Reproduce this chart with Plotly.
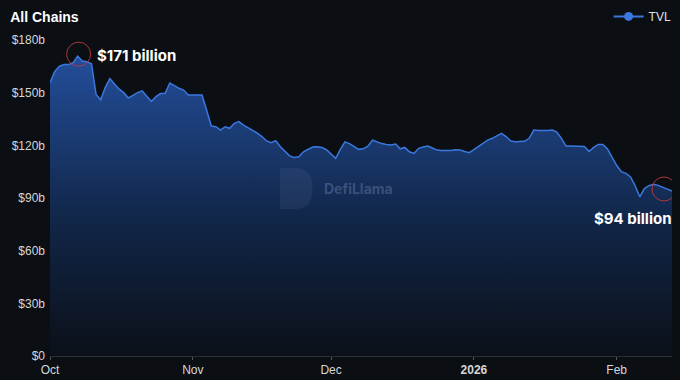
import pandas as pd
import plotly.graph_objects as go

# ---- data (TVL, $ billions, daily from Oct 1) ----
start_date = "2025-10-01"
tvl = [
    155.5, 162, 165, 166, 166, 167, 170.8, 168, 167.6, 166.5,
    149, 146, 153, 158, 155, 152, 150, 147, 148.5, 150,
    151, 148, 145, 147.7, 149.5, 149.6, 155.5, 154, 152.5, 151.5,
    148.6, 148.6, 148.6, 148.6, 140, 131, 130.6, 128.7, 130.6, 129.7,
    132.5, 133.5, 131.5, 130, 128.8, 127, 125, 122.5, 121.5, 122.6,
    119.2, 116.5, 114, 113.1, 113.5, 116.3, 117.5, 119, 119.2, 118.8,
    117.5, 115, 112.6, 117.5, 122, 121, 119.5, 117.7, 118, 119.5,
    123, 122, 121, 120.5, 120.2, 120.7, 118, 118.8, 116.3, 115.4,
    118.3, 119, 119.6, 118.5, 117.3, 117, 117, 117, 117.5, 117.3,
    116.5, 115.8, 117.5, 119.5, 121.5, 123, 124, 125.5, 126.8, 125,
    122.5, 122, 122, 122.3, 124, 128.7, 128.5, 128.3, 128.5, 128.7,
    127.5, 124, 119.6, 119.6, 119.6, 119.6, 119.3, 116.5, 118.8, 120.5,
    120.5, 118, 113, 108.5, 105, 104, 102, 97, 90.7, 95.4,
    97, 97.8, 97.2, 96, 95, 94,
]
dates = pd.date_range(start_date, periods=len(tvl), freq="D")

y_tickvals = [0, 30, 60, 90, 120, 150, 180]
y_ticktext = ["$0", "$30b", "$60b", "$90b", "$120b", "$150b", "$180b"]
x_tickvals = ["2025-10-01", "2025-11-01", "2025-12-01", "2026-01-01", "2026-02-01"]
x_ticktext = ["Oct", "Nov", "Dec", "<b>2026</b>", "Feb"]

BG = "#0b0f14"
LINE = "#3a78e0"

fig = go.Figure()
fig.add_trace(go.Scatter(
    x=dates, y=tvl, mode="lines", name="TVL", showlegend=False,
    line=dict(color=LINE, width=1.5),
    fill="tozeroy",
    fillgradient=dict(type="vertical", start=0, stop=171,
                      colorscale=[[0, "rgba(11,16,24,1)"], [0.45, "rgba(17,38,72,1)"],
                                  [1, "rgba(35,78,155,1)"]]),
    hoverinfo="skip",
))
# legend entry
fig.add_trace(go.Scatter(
    x=[None], y=[None], mode="lines+markers", name="TVL",
    line=dict(color=LINE, width=2), marker=dict(color=LINE, size=9),
))

peak_i = max(range(len(tvl)), key=lambda i: tvl[i])
last_i = len(tvl) - 1

# annotations
fig.add_annotation(x=dates[peak_i], y=tvl[peak_i], text="$%d billion" % round(tvl[peak_i]),
                   showarrow=False, xanchor="left", yanchor="middle", xshift=17, yshift=1,
                   font=dict(family="Inter, Noto Sans, sans-serif", size=15, color="white", weight="bold"))
fig.add_annotation(x=dates[last_i], y=tvl[last_i], text="$%d billion" % round(tvl[last_i]),
                   showarrow=False, xanchor="right", yanchor="middle", xshift=2, yshift=-28,
                   font=dict(family="Inter, Noto Sans, sans-serif", size=15, color="white", weight="bold"))

for i, dx in ((peak_i, 1), (last_i, -8)):
    fig.add_shape(type="circle", xref="x", yref="y", xsizemode="pixel", ysizemode="pixel",
                  xanchor=dates[i], yanchor=tvl[i],
                  x0=dx - 12, x1=dx + 12, y0=-12 + 2, y1=12 + 2,
                  line=dict(color="rgba(190,55,55,0.9)", width=1))

# watermark
fig.add_annotation(xref="paper", yref="paper", x=0.438, y=0.53, text="DefiLlama", showarrow=False,
                   xanchor="left", yanchor="middle",
                   font=dict(family="Inter, Noto Sans, sans-serif", size=14, color="rgba(140,160,195,0.33)",
                             weight="bold"))
fig.add_shape(type="path", xref="paper", yref="paper",
              path="M 0.370 0.465 L 0.395 0.465 Q 0.422 0.465 0.422 0.53 Q 0.422 0.595 0.395 0.595 L 0.370 0.595 Z",
              fillcolor="rgba(140,160,195,0.10)", line=dict(width=0), layer="above")

fig.update_layout(
    width=680, height=380,
    margin=dict(l=50, r=8, t=40, b=24, autoexpand=False),
    paper_bgcolor=BG, plot_bgcolor=BG,
    font=dict(family="Liberation Sans, Arial, sans-serif", size=12, color="#d6d6d6"),
    title=dict(text="<b>All Chains</b>", x=0.015, xref="container", y=0.955, yref="container",
               xanchor="left", yanchor="middle",
               font=dict(family="Liberation Sans, Arial, sans-serif", size=14, color="white")),
    showlegend=True,
    legend=dict(x=0.995, y=0.995, xref="container", yref="container", xanchor="right", yanchor="top",
                bgcolor="rgba(0,0,0,0)", font=dict(size=12, color="#e0e0e0"),
                itemwidth=30),
    xaxis=dict(range=[dates[0], dates[-1]], tickvals=x_tickvals, ticktext=x_ticktext,
               showgrid=False, zeroline=False, showline=True, linecolor="#2a3038", linewidth=1,
               ticks="outside", ticklen=3, tickcolor="#555", tickfont=dict(size=12, color="#d6d6d6")),
    yaxis=dict(range=[0, 180], tickvals=y_tickvals, ticktext=y_ticktext, showgrid=False,
               zeroline=False, showline=False, ticks="", ticklabelstandoff=4,
               tickfont=dict(size=12, color="#d6d6d6")),
)

fig.write_html("out.html", config={"displayModeBar": False},
               post_script="document.body.style.margin='0';document.body.style.background='%s';" % BG)
